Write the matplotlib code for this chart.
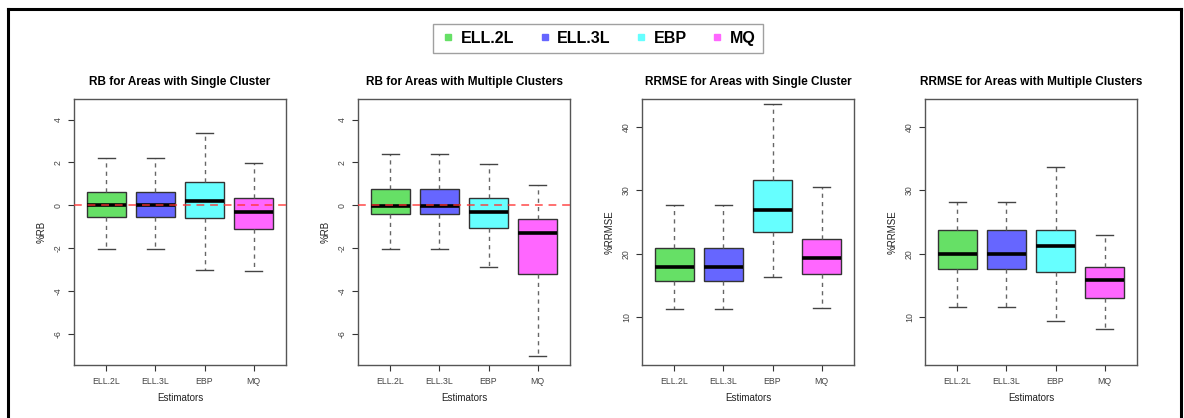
import matplotlib
matplotlib.use("Agg")
import matplotlib.pyplot as plt
from matplotlib.lines import Line2D

plt.rcParams['font.family'] = ['Liberation Sans', 'DejaVu Sans']

estimators = ["ELL.2L", "ELL.3L", "EBP", "MQ"]
colors = ["#66E066", "#6666FF", "#66FFFF", "#FF66FF"]

titles = ["RB for Areas with Single Cluster",
          "RB for Areas with Multiple Clusters",
          "RRMSE for Areas with Single Cluster",
          "RRMSE for Areas with Multiple Clusters"]
ylabels = ["%RB", "%RB", "%RRMSE", "%RRMSE"]

# per panel: [whisker_low, Q1, median, Q3, whisker_high] for each estimator
rb_single = [[-2.05, -0.53, 0.02, 0.60, 2.20],
             [-2.05, -0.53, 0.02, 0.60, 2.20],
             [-3.03, -0.61, 0.20, 1.07, 3.37],
             [-3.06, -1.13, -0.30, 0.35, 1.99]]
rb_multi = [[-2.05, -0.42, -0.02, 0.74, 2.37],
            [-2.05, -0.42, -0.02, 0.74, 2.37],
            [-2.88, -1.04, -0.33, 0.35, 1.91],
            [-7.04, -3.20, -1.32, -0.64, 0.94]]
rrmse_single = [[11.35, 15.75, 18.0, 20.94, 27.64],
                [11.35, 15.75, 18.0, 20.94, 27.64],
                [16.4, 23.4, 26.9, 31.57, 43.57],
                [11.47, 16.8, 19.3, 22.36, 30.47]]
rrmse_multi = [[11.57, 17.6, 20.0, 23.7, 28.2],
               [11.57, 17.6, 20.0, 23.7, 28.2],
               [9.37, 17.2, 21.2, 23.8, 33.7],
               [8.1, 13.1, 15.9, 17.86, 23.0]]
panels = [rb_single, rb_multi, rrmse_single, rrmse_multi]

ylims = [(-7.46, 4.96), (-7.46, 4.96), (2.5, 44.36), (2.5, 44.36)]
yticks = [[-6, -4, -2, 0, 2, 4], [-6, -4, -2, 0, 2, 4], [10, 20, 30, 40], [10, 20, 30, 40]]

W, H = 1184, 418
fig = plt.figure(figsize=(W / 100, H / 100), dpi=100)

lefts = [74, 358, 642, 925]
ax_w, ax_top, ax_bot = 212, 99, 365

for i, (data, left) in enumerate(zip(panels, lefts)):
    ax = fig.add_axes([left / W, (H - ax_bot) / H, ax_w / W, (ax_bot - ax_top) / H])
    stats = []
    for name, s in zip(estimators, data):
        stats.append(dict(label=name, whislo=s[0], q1=s[1], med=s[2], q3=s[3], whishi=s[4], fliers=[]))
    bp = ax.bxp(stats, positions=[1, 2, 3, 4], widths=0.8, patch_artist=True,
                showfliers=False,
                boxprops=dict(edgecolor="#333333", linewidth=1.0),
                medianprops=dict(color="black", linewidth=2.6, solid_capstyle="butt"),
                whiskerprops=dict(color="#666666", linestyle=(0, (3, 3)), linewidth=1.0),
                capprops=dict(color="#444444", linewidth=1.0),
                capwidths=0.36)
    for patch, c in zip(bp["boxes"], colors):
        patch.set_facecolor(c)
    if i < 2:
        ax.axhline(0, color="#FF3333", alpha=0.7, linestyle=(0, (4, 3)), linewidth=1.4, zorder=5)
    ax.set_xlim(0.34, 4.66)
    ax.set_ylim(*ylims[i])
    ax.set_yticks(yticks[i])
    ax.set_yticklabels([str(t) for t in yticks[i]], rotation=90, va="center")
    ax.set_xticks([1, 2, 3, 4])
    ax.set_xticklabels(estimators)
    ax.tick_params(axis="both", labelsize=6.3, colors="#333333", labelcolor="#444444",
                   length=4, width=0.8)
    ax.tick_params(axis="y", pad=4)
    ax.tick_params(axis="x", pad=5)
    for sp in ax.spines.values():
        sp.set_color("#555555")
        sp.set_linewidth(1.0)
    ax.set_title(titles[i], fontsize=8.5, fontweight="bold", pad=10)
    ax.set_xlabel("Estimators", fontsize=7, color="#222222", labelpad=5)
    ax.set_ylabel(ylabels[i], fontsize=7, color="#222222", labelpad=5)

handles = [Line2D([], [], marker="s", linestyle="none", markersize=5,
                  markerfacecolor=c, markeredgecolor=c) for c in colors]
leg = fig.legend(handles, estimators, loc="center", ncol=4,
                 bbox_to_anchor=(598 / W, 1 - 38.5 / H), frameon=True, fancybox=False,
                 edgecolor="#888888", prop=dict(size=11.5, weight="bold"),
                 handletextpad=0.3, columnspacing=1.4, handlelength=1.0,
                 borderpad=0.45, borderaxespad=0)
leg.get_frame().set_linewidth(1.0)

# outer black frame (top, left, right)
frame_kw = dict(color="black", linewidth=2.2, transform=fig.transFigure)
fig.add_artist(Line2D([8 / W, 1181 / W], [1 - 9 / H, 1 - 9 / H], **frame_kw))
fig.add_artist(Line2D([8 / W, 8 / W], [0, 1 - 9 / H], **frame_kw))
fig.add_artist(Line2D([1181 / W, 1181 / W], [0, 1 - 9 / H], **frame_kw))

fig.savefig("out.png", dpi=100)
